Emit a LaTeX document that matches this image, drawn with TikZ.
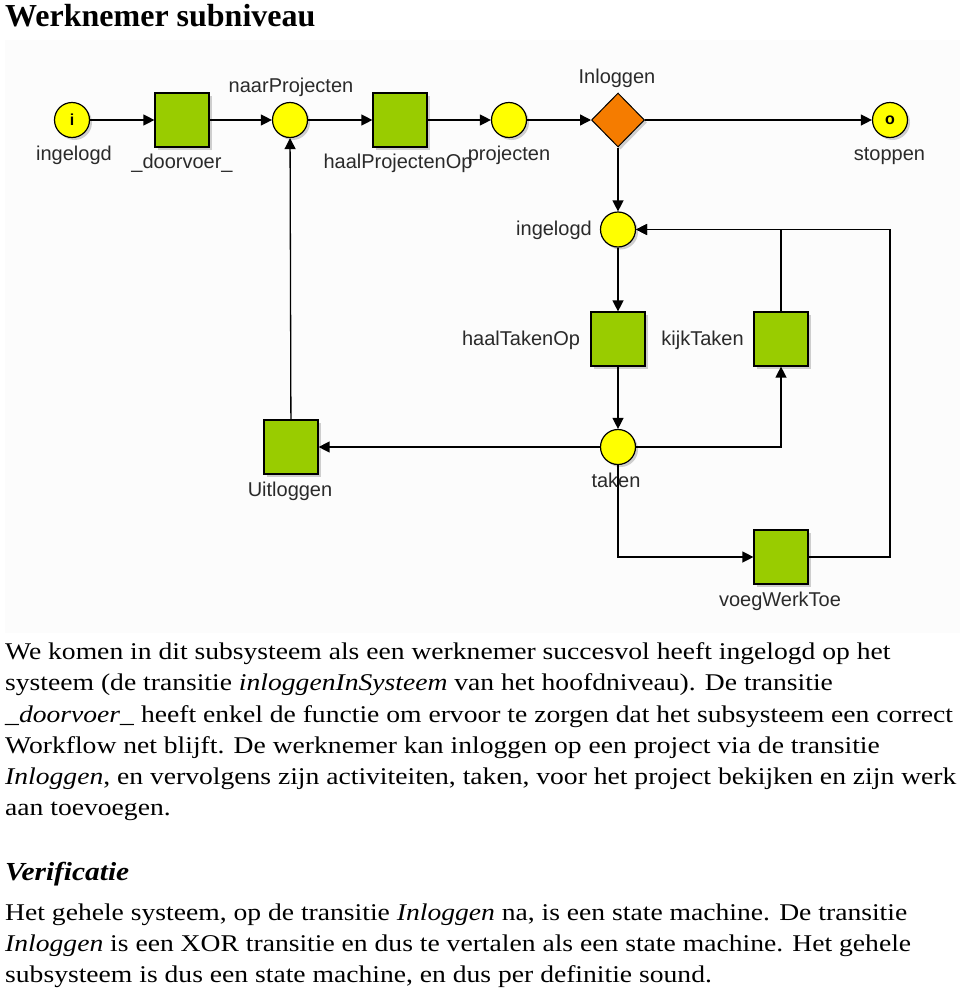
\documentclass[tikz,border=0pt]{standalone}
\usepackage{fontspec}
\usepackage{graphicx}
\setmainfont{Liberation Serif}
\setsansfont{Liberation Sans}
\usetikzlibrary{arrows.meta,shapes.geometric,shadows}
\definecolor{pgreen}{HTML}{99CC00}
\definecolor{pyellow}{HTML}{FFFF00}
\definecolor{porange}{HTML}{F57C00}
\definecolor{lbltext}{HTML}{2A2A2A}
\newcommand{\bodyline}[1]{\scalebox{1.15}[1]{#1}}
\tikzset{
  shd/.style={drop shadow={shadow xshift=2.5pt,shadow yshift=-2.5pt,fill=black,opacity=0.18}},
  place/.style={circle,draw=black,line width=1.2pt,fill=pyellow,minimum size=35pt,inner sep=0pt,shd,font=\sffamily\bfseries\fontsize{16}{16}\selectfont},
  trans/.style={rectangle,draw=black,line width=1.2pt,fill=pgreen,minimum size=54pt,inner sep=0pt,shd},
  xortrans/.style={diamond,draw=black,line width=1pt,fill=porange,minimum width=53pt,minimum height=54pt,inner sep=0pt,shd},
  lbl/.style={anchor=base,inner sep=0pt,text=lbltext,font=\sffamily\fontsize{20}{20}\selectfont},
  arc/.style={line width=1.3pt,-{Triangle[length=11pt,width=11pt]}},
  body/.style={anchor=base west,inner sep=0pt,font=\fontsize{24}{24}\selectfont},
}
\begin{document}
\begin{tikzpicture}[x=1pt,y=-1pt]
\useasboundingbox (0,0) rectangle (960,993);
\fill[black!1.2] (5,40) rectangle (960,633);
\node[anchor=base west,inner sep=0pt,font=\bfseries\fontsize{32}{32}\selectfont] (title) at (5,27) {Werknemer subniveau};

% places and transitions
\node[place] (p_i) at (72,120) {i};
\node[trans] (t_door) at (182,120) {};
\node[place] (p_naar) at (290,120) {};
\node[trans] (t_haalP) at (400,120) {};
\node[place] (p_proj) at (509,120) {};
\node[xortrans] (x_inl) at (618,120) {};
\node[place] (p_stop) at (890,120) {o};
\node[place] (p_ing) at (618,229.5) {};
\node[trans] (t_haalT) at (618,339) {};
\node[trans] (t_kijk) at (781,339) {};
\node[place] (p_taken) at (618,447) {};
\node[trans] (t_uit) at (291,447) {};
\node[trans] (t_voeg) at (781,557) {};
\coordinate (c_right) at (890,557);

% connectors
\draw[arc] (p_i) -- (t_door);
\draw[arc] (t_door) -- (p_naar);
\draw[arc] (p_naar) -- (t_haalP);
\draw[arc] (t_haalP) -- (p_proj);
\draw[arc] (p_proj) -- (x_inl);
\draw[arc] (x_inl) -- (p_stop);
\draw[arc] (x_inl) -- (p_ing);
\draw[arc] (p_ing) -- (t_haalT);
\draw[arc] (t_haalT) -- (p_taken);
\draw[arc] (p_taken) -- (t_uit);
\draw[arc] (t_uit) -- (p_naar);
\draw[arc] (p_taken) -| (t_kijk);
\draw[arc] (t_kijk) |- (p_ing);
\draw[arc] (p_taken) |- (t_voeg);
\draw[arc] (t_voeg) -- (c_right) |- (p_ing);

% labels
\node[lbl] (l_i) at (74,160) {ingelogd};
\node[lbl] (l_door) at (182,168) {\_doorvoer\_};
\node[lbl] (l_naar) at (291,92.5) {naarProjecten};
\node[lbl] (l_haalP) at (398,168) {haalProjectenOp};
\node[lbl] (l_proj) at (509,160) {projecten};
\node[lbl] (l_inl) at (617,83) {Inloggen};
\node[lbl] (l_stop) at (889.5,160) {stoppen};
\node[lbl] (l_ing) at (554,235.5) {ingelogd};
\node[lbl] (l_haalT) at (521,345.5) {haalTakenOp};
\node[lbl] (l_kijk) at (702.5,345.5) {kijkTaken};
\node[lbl] (l_taken) at (616,487) {taken};
\node[lbl] (l_uit) at (290,496.5) {Uitloggen};
\node[lbl] (l_voeg) at (780,606.5) {voegWerkToe};

% body text
\node[body] (b1) at (5,659) {\bodyline{We komen in dit subsysteem als een werknemer succesvol heeft ingelogd op het}};
\node[body] (b2) at (5,690.5) {\bodyline{systeem (de transitie \textit{inloggenInSysteem} van het hoofdniveau). De transitie}};
\node[body] (b3) at (5,722) {\bodyline{\textit{\_doorvoer\_} heeft enkel de functie om ervoor te zorgen dat het subsysteem een correct}};
\node[body] (b4) at (5,753) {\bodyline{Workflow net blijft. De werknemer kan inloggen op een project via de transitie}};
\node[body] (b5) at (5,784) {\bodyline{\textit{Inloggen}, en vervolgens zijn activiteiten, taken, voor het project bekijken en zijn werk}};
\node[body] (b6) at (5,815.5) {\bodyline{aan toevoegen.}};
\node[anchor=base west,inner sep=0pt,font=\bfseries\itshape\fontsize{26}{26}\selectfont] (verif) at (5,880) {\scalebox{1.13}[1]{Verificatie}};
\node[body] (b7) at (5,920) {\bodyline{Het gehele systeem, op de transitie \textit{Inloggen} na, is een state machine. De transitie}};
\node[body] (b8) at (5,951) {\bodyline{\textit{Inloggen} is een XOR transitie en dus te vertalen als een state machine. Het gehele}};
\node[body] (b9) at (5,982) {\bodyline{subsysteem is dus een state machine, en dus per definitie sound.}};
\end{tikzpicture}
\end{document}
